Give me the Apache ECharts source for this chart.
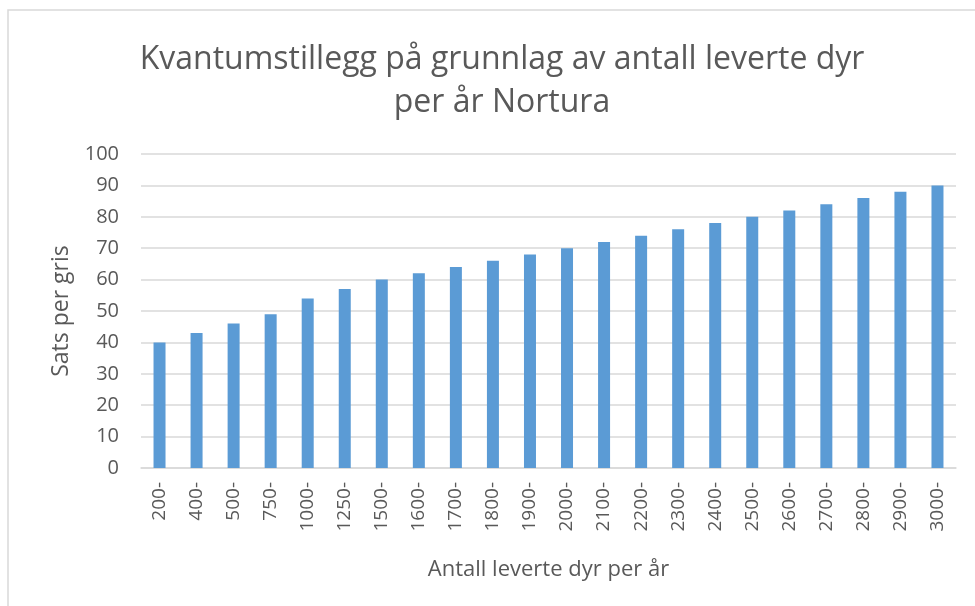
<!DOCTYPE html>
<html>
<head>
<meta charset="utf-8">
<script src="https://cdn.jsdelivr.net/npm/echarts@6/dist/echarts.min.js"></script>
<style>
  html, body { margin: 0; padding: 0; background: #fff; }
  #main { width: 975px; height: 606px; }
</style>
</head>
<body>
<div id="main"></div>
<script>
  // data
  let categories = ['200-', '400-', '500-', '750-', '1000-', '1250-', '1500-', '1600-', '1700-', '1800-', '1900-',
    '2000-', '2100-', '2200-', '2300-', '2400-', '2500-', '2600-', '2700-', '2800-', '2900-', '3000-'];
  let values = [40, 43, 46, 49, 54, 57, 60, 62, 64, 66, 68, 70, 72, 74, 76, 78, 80, 82, 84, 86, 88, 90];

  let font = '"Open Sans", "Noto Sans", sans-serif';
  let textColor = '#595959';

  let myChart = echarts.init(document.getElementById('main'));

  let option = {
    animation: false,
    textStyle: { fontFamily: font },
    title: {
      text: 'Kvantumstillegg på grunnlag av antall leverte dyr\nper år Nortura',
      left: 497,
      textAlign: 'center',
      top: 33,
      textStyle: {
        fontFamily: font,
        fontSize: 32,
        fontWeight: 'normal',
        color: textColor,
        lineHeight: 43
      }
    },
    graphic: [{
      type: 'rect',
      shape: { x: 8, y: 10, width: 1000, height: 700 },
      style: { fill: 'none', stroke: '#d9d9d9', lineWidth: 1.5 },
      silent: true
    }],
    grid: {
      left: 141,
      right: 19,
      top: 154,
      bottom: 138
    },
    xAxis: {
      type: 'category',
      data: categories,
      name: 'Antall leverte dyr per år',
      nameLocation: 'middle',
      nameGap: 91,
      nameTextStyle: { fontSize: 22, color: textColor, fontFamily: font },
      axisLine: { lineStyle: { color: '#d9d9d9', width: 1.5 } },
      axisTick: { show: false },
      axisLabel: {
        rotate: 90,
        fontSize: 19,
        color: textColor,
        margin: 14,
        interval: 0,
        fontFamily: font
      }
    },
    yAxis: {
      type: 'value',
      min: 0,
      max: 100,
      interval: 10,
      name: 'Sats per gris',
      nameLocation: 'middle',
      nameRotate: 90,
      nameGap: 68,
      nameTextStyle: { fontSize: 23, color: textColor, fontFamily: font },
      axisLine: { show: false },
      axisTick: { show: false },
      axisLabel: { fontSize: 20, color: textColor, margin: 22, fontFamily: font },
      splitLine: { lineStyle: { color: '#d9d9d9', width: 1.5 } }
    },
    series: [{
      type: 'bar',
      data: values,
      barWidth: 12,
      itemStyle: { color: '#5b9bd5' }
    }]
  };

  myChart.setOption(option);
</script>
</body>
</html>
